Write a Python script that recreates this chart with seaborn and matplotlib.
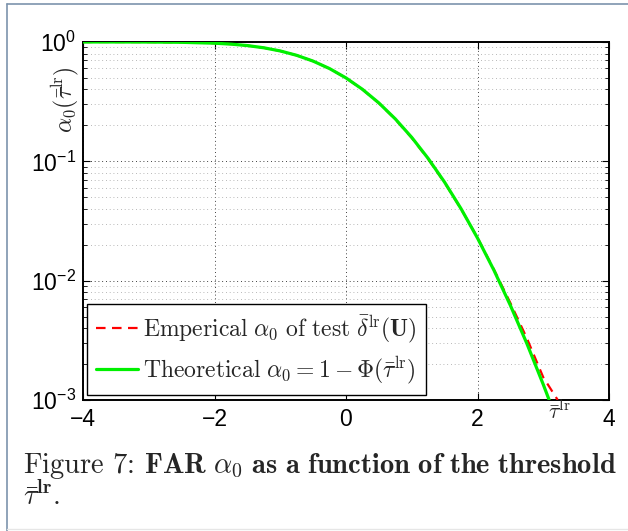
import numpy as np
import pandas as pd
import matplotlib
matplotlib.use("Agg")
import matplotlib.pyplot as plt
import seaborn as sns
from matplotlib.font_manager import FontProperties
from matplotlib.lines import Line2D
from matplotlib.ticker import FixedLocator, NullFormatter

# ---- data ----
theo_x = [-4.0, -3.5, -3.0, -2.5, -2.0, -1.75, -1.5, -1.25, -1.0, -0.75, -0.5, -0.25,
          0.0, 0.25, 0.5, 0.75, 1.0, 1.25, 1.5, 1.75, 2.0, 2.25, 2.5, 2.75, 3.0, 3.09]
theo_y = [0.99997, 0.99977, 0.99865, 0.99379, 0.97725, 0.95994, 0.93319, 0.89435,
          0.84134, 0.77337, 0.69146, 0.59871, 0.5, 0.40129, 0.30854, 0.22663, 0.15866,
          0.10565, 0.066807, 0.040059, 0.02275, 0.012224, 0.0062097, 0.0029798,
          0.0013499, 0.001]

emp_x = [-4.0, -3.5, -3.0, -2.5, -2.0, -1.75, -1.5, -1.25, -1.0, -0.75, -0.5, -0.25,
         0.0, 0.25, 0.5, 0.75, 1.0, 1.25, 1.5, 1.75, 2.0, 2.25, 2.5, 2.75, 3.0, 3.22]
emp_y = [1.0, 0.9998, 0.9987, 0.9938, 0.9772, 0.9600, 0.9330, 0.8942, 0.8410, 0.7730,
         0.6910, 0.5980, 0.4990, 0.4005, 0.3075, 0.2252, 0.1572, 0.1045, 0.0662, 0.0399,
         0.0229, 0.0124, 0.0065, 0.0033, 0.00155, 0.00100]

x_ticks = [-4, -2, 0, 2, 4]
x_tick_labels = ["\u22124", "\u22122", "0", "2", "4"]
y_ticks = [1e-3, 1e-2, 1e-1, 1e0]
y_tick_labels = [r"$\mathregular{10^{-3}}$", r"$\mathregular{10^{-2}}$",
                 r"$\mathregular{10^{-1}}$", r"$\mathregular{10^{0}}$"]

legend_labels = [r"$\mathrm{Emperical}\ \alpha_0\ \mathrm{of\ test}\ \bar{\delta}^{\mathrm{lr}}(\mathbf{U})$",
                 r"$\mathrm{Theoretical}\ \alpha_0 = 1-\Phi(\bar{\tau}^{\mathrm{lr}})$"]
ylabel_text = r"$\alpha_0(\bar{\tau}^{\mathrm{lr}})$"
xlabel_text = r"$\bar{\tau}^{\mathrm{lr}}$"
caption1 = r"Figure 7: $\mathbf{FAR}\ \alpha_{\mathbf{0}}\ \mathbf{as\ a\ function\ of\ the\ threshold}$"
caption2 = r"$\bar{\tau}^{\mathbf{lr}}\mathbf{.}$"

# ---- style ----
sns.set_style("white")
plt.rcParams["font.family"] = ["Liberation Sans", "DejaVu Sans"]
plt.rcParams["mathtext.fontset"] = "custom"
plt.rcParams["mathtext.rm"] = "Liberation Sans"
plt.rcParams["mathtext.it"] = "Liberation Sans:italic"
plt.rcParams["mathtext.bf"] = "Liberation Sans:bold"

W, H = 628, 531
fig = plt.figure(figsize=(W / 100, H / 100), dpi=100)
fig.patch.set_facecolor("white")

# outer frame
fig.add_artist(Line2D([7 / W, 7 / W], [0, 1 - 4 / H], transform=fig.transFigure,
                      color="#7d93ad", lw=1.2))
fig.add_artist(Line2D([7 / W, 1], [1 - 4 / H, 1 - 4 / H], transform=fig.transFigure,
                      color="#7d93ad", lw=1.2))
fig.add_artist(Line2D([7 / W, 1], [1 - 529 / H, 1 - 529 / H], transform=fig.transFigure,
                      color="#e6e6e6", lw=1.0))

left, right, top, bottom = 83, 609, 42, 400
ax = fig.add_axes([left / W, 1 - bottom / H, (right - left) / W, (bottom - top) / H])

df_emp = pd.DataFrame({"x": emp_x, "y": emp_y})
df_theo = pd.DataFrame({"x": theo_x, "y": theo_y})

sns.lineplot(data=df_emp, x="x", y="y", ax=ax, color="#ff0000", lw=1.6,
             estimator=None, sort=False, zorder=3)
sns.lineplot(data=df_theo, x="x", y="y", ax=ax, color="#00f000", lw=2.3,
             estimator=None, sort=False, zorder=4)
ax.lines[0].set_dashes((4.3, 2.9))

ax.set_yscale("log")
ax.set_xlim(-4, 4)
ax.set_ylim(1e-3, 1e0)

ax.set_xticks(x_ticks)
ax.set_xticklabels(x_tick_labels, fontsize=16.5)
ax.set_yticks(y_ticks)
ax.set_yticklabels(y_tick_labels, fontsize=16.5)
minor_y = [m * 10.0 ** e for e in (-3, -2, -1) for m in range(2, 10)]
ax.yaxis.set_minor_locator(FixedLocator(minor_y))
ax.yaxis.set_minor_formatter(NullFormatter())

ax.tick_params(which="both", direction="in", top=True, right=True, bottom=True, left=True,
               colors="black")
ax.tick_params(which="major", length=5, width=0.8)
ax.tick_params(axis="x", which="major", pad=6)
ax.tick_params(axis="y", which="major", pad=5)
ax.tick_params(which="minor", length=3, width=0.6)

ax.grid(which="major", axis="both", color="black", linestyle=(0, (1, 3.5)), lw=0.6)
ax.grid(which="minor", axis="y", color="#a0a0a0", linestyle=(0, (1, 3.5)), lw=0.6)
ax.set_axisbelow(True)
for s in ax.spines.values():
    s.set_color("black")
    s.set_linewidth(1.4)

ax.set_xlabel("")
ax.set_ylabel("")

legfp = FontProperties(size=17, math_fontfamily="cm")
handles = [Line2D([], [], color="#ff0000", lw=1.6, dashes=(4.3, 2.9)),
           Line2D([], [], color="#00f000", lw=2.3)]
leg = ax.legend(handles, legend_labels, prop=legfp, loc="lower left",
                bbox_to_anchor=(4 / 526, 5 / 358), borderaxespad=0,
                handlelength=1.75, handletextpad=0.22, labelspacing=0.38,
                borderpad=0.4, fancybox=False, framealpha=1, edgecolor="black")
leg.get_frame().set_linewidth(1.0)
leg.set_zorder(10)

# y label near top, x label annotation near x-axis
fig.text(65.5 / W, 1 - 100 / H, ylabel_text, rotation=90, ha="center", va="center",
         fontproperties=FontProperties(size=17, math_fontfamily="cm"))
fig.text(548 / W, 1 - 400 / H, xlabel_text, ha="left", va="top",
         fontproperties=FontProperties(size=16, math_fontfamily="cm"))

# caption
capfp = FontProperties(family="cmr10", size=20.5, math_fontfamily="cm")
fig.text(23 / W, 1 - 473 / H, caption1, ha="left", va="baseline", fontproperties=capfp)
fig.text(23 / W, 1 - 505 / H, caption2, ha="left", va="baseline", fontproperties=capfp)

fig.savefig("out.png", dpi=100)
